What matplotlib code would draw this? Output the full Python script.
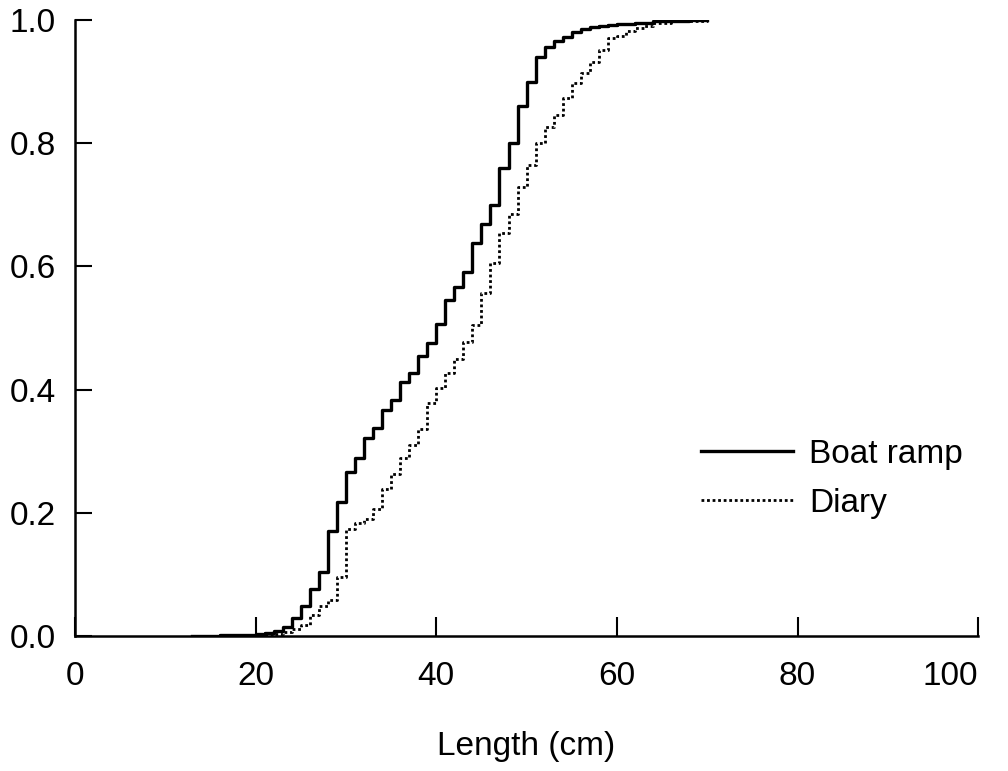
import matplotlib
matplotlib.use("Agg")
import matplotlib.pyplot as plt

plt.rcParams['font.family'] = ['Liberation Sans', 'DejaVu Sans']

# cumulative length-frequency, value after the step at each length
boat_len = [13, 14, 16, 18, 19, 20, 21, 22, 23, 24, 25, 26, 27, 28, 29, 30,
            31, 32, 33, 34, 35, 36, 37, 38, 39, 40, 41, 42, 43, 44, 45, 46,
            47, 48, 49, 50, 51, 52, 53, 54, 55, 56, 57, 58, 59, 60, 62, 64,
            66, 68, 70]
boat_cum = [0.0, 0.0005, 0.001, 0.0015, 0.002, 0.003, 0.005, 0.008, 0.015,
            0.029, 0.049, 0.076, 0.104, 0.17, 0.217, 0.266, 0.289, 0.321,
            0.338, 0.367, 0.383, 0.412, 0.427, 0.455, 0.476, 0.506, 0.545,
            0.567, 0.591, 0.638, 0.669, 0.70, 0.76, 0.80, 0.86, 0.90, 0.94,
            0.956, 0.966, 0.972, 0.98, 0.985, 0.988, 0.99, 0.992, 0.994,
            0.996, 0.998, 0.999, 1.0, 1.0]

diary_len = [18, 20, 21, 22, 23, 24, 25, 26, 27, 28, 29, 30, 31, 32, 33, 34,
             35, 36, 37, 38, 39, 40, 41, 42, 43, 44, 45, 46, 47, 48, 49, 50,
             51, 52, 53, 54, 55, 56, 57, 58, 59, 60, 61, 62, 63, 64, 66, 68,
             70]
diary_cum = [0.0, 0.001, 0.002, 0.004, 0.007, 0.011, 0.018, 0.034, 0.049,
             0.058, 0.096, 0.174, 0.183, 0.19, 0.207, 0.238, 0.263, 0.289,
             0.31, 0.336, 0.378, 0.402, 0.427, 0.45, 0.477, 0.505, 0.557,
             0.605, 0.654, 0.685, 0.729, 0.765, 0.80, 0.826, 0.846, 0.873,
             0.898, 0.914, 0.932, 0.951, 0.971, 0.974, 0.982, 0.987, 0.991,
             0.995, 0.998, 0.999, 1.0]

x_ticks = [0, 20, 40, 60, 80, 100]
y_ticks = [0.0, 0.2, 0.4, 0.6, 0.8, 1.0]

FS = 24

fig = plt.figure(figsize=(10.08, 7.71), dpi=100)
ax = fig.add_axes([0.0744, 0.175, 0.896, 0.799])

ax.step(boat_len, boat_cum, where='post', color='black', lw=2.4,
        label="Boat ramp")
ax.step(diary_len, diary_cum, where='post', color='black', lw=2.0,
        linestyle=(0, (1, 1)), label="Diary")

ax.set_xlim(0, 100)
ax.set_ylim(0, 1.0)
ax.set_xticks(x_ticks)
ax.set_xticklabels([str(v) for v in x_ticks])
ax.set_yticks(y_ticks)
ax.set_yticklabels([f"{v:.1f}" for v in y_ticks])
ax.get_xticklabels()[-1].set_ha('right')

for side in ['top', 'right']:
    ax.spines[side].set_visible(False)
for side in ['left', 'bottom']:
    ax.spines[side].set_linewidth(1.8)

ax.tick_params(axis='x', direction='in', length=14, width=1.5,
               labelsize=FS, pad=18)
ax.tick_params(axis='y', direction='in', length=12, width=1.5,
               labelsize=FS, pad=14)

ax.set_xlabel("Length (cm)", fontsize=FS, labelpad=28)

ax.legend(loc='center left', bbox_to_anchor=(0.66, 0.255), frameon=False,
          fontsize=FS, handlelength=2.75, handletextpad=0.5,
          labelspacing=0.55)

fig.savefig("out.png", dpi=100)
